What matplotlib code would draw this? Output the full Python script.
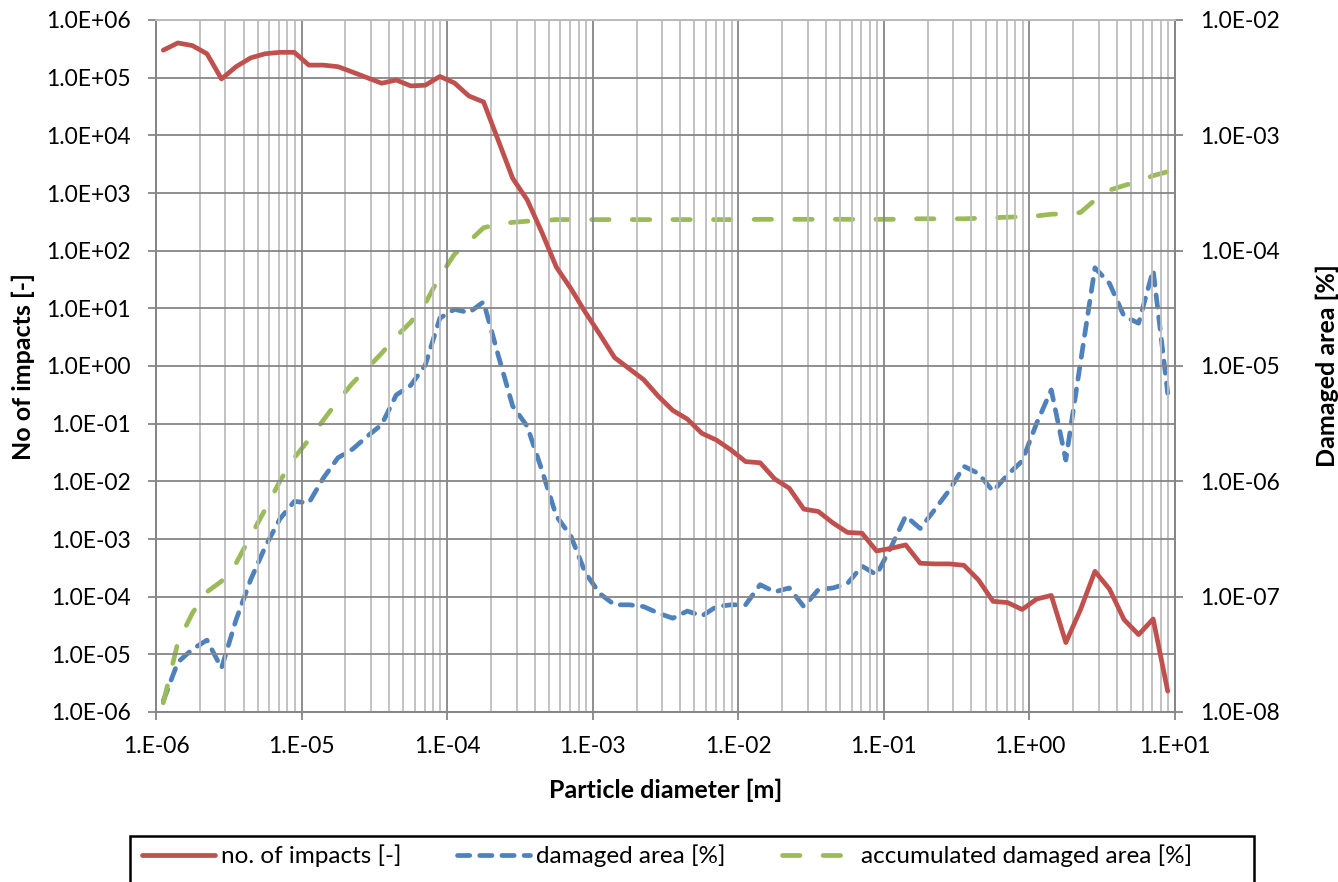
import matplotlib
matplotlib.use("Agg")
import matplotlib.pyplot as plt
import matplotlib.ticker as mticker
from matplotlib.patches import Rectangle
import numpy as np

plt.rcParams['font.family'] = ['Lato', 'DejaVu Sans']

# particle diameter bins (log10 of bin centre, 0.1 decade steps)
log_d = [-5.95, -5.85, -5.75, -5.65, -5.55, -5.45, -5.35, -5.25, -5.15, -5.05,
         -4.95, -4.85, -4.75, -4.65, -4.55, -4.45, -4.35, -4.25, -4.15, -4.05,
         -3.95, -3.85, -3.75, -3.65, -3.55, -3.45, -3.35, -3.25, -3.15, -3.05,
         -2.95, -2.85, -2.75, -2.65, -2.55, -2.45, -2.35, -2.25, -2.15, -2.05,
         -1.95, -1.85, -1.75, -1.65, -1.55, -1.45, -1.35, -1.25, -1.15, -1.05,
         -0.95, -0.85, -0.75, -0.65, -0.55, -0.45, -0.35, -0.25, -0.15, -0.05,
         0.05, 0.15, 0.25, 0.35, 0.45, 0.55, 0.65, 0.75, 0.85, 0.95]
diameter = [10 ** v for v in log_d]

impacts = [3.0e5, 4.0e5, 3.6e5, 2.6e5, 9.5e4, 1.55e5, 2.2e5, 2.6e5, 2.75e5, 2.75e5,
           1.65e5, 1.65e5, 1.55e5, 1.25e5, 1.0e5, 8.0e4, 9.1e4, 7.2e4, 7.4e4, 1.05e5,
           8.1e4, 4.8e4, 3.8e4, 8.3e3, 1.8e3, 7.6e2, 2.1e2, 52, 22, 8.5,
           3.5, 1.4, 0.9, 0.58, 0.30, 0.17, 0.12, 0.068, 0.052, 0.035,
           0.022, 0.021, 0.011, 0.0076, 0.0033, 0.0030, 0.0019, 0.0013, 0.00126, 6.2e-4,
           6.9e-4, 7.9e-4, 3.8e-4, 3.7e-4, 3.7e-4, 3.5e-4, 1.95e-4, 8.3e-5, 7.9e-5, 6.0e-5,
           9.1e-5, 1.05e-4, 1.6e-5, 5.9e-5, 2.75e-4, 1.35e-4, 4.0e-5, 2.2e-5, 4.1e-5, 2.3e-6]

damaged = [1.25e-8, 2.7e-8, 3.5e-8, 4.2e-8, 2.4e-8, 6.3e-8, 1.4e-7, 2.7e-7, 4.7e-7, 6.7e-7,
           6.5e-7, 1.07e-6, 1.6e-6, 1.9e-6, 2.45e-6, 3.1e-6, 5.6e-6, 6.8e-6, 1.02e-5, 2.6e-5,
           3.1e-5, 2.9e-5, 3.6e-5, 1.25e-5, 4.5e-6, 3.0e-6, 1.26e-6, 5.0e-7, 3.35e-7, 1.6e-7,
           1.06e-7, 8.5e-8, 8.5e-8, 8.2e-8, 7.2e-8, 6.5e-8, 7.5e-8, 6.8e-8, 8.2e-8, 8.5e-8,
           8.5e-8, 1.27e-7, 1.1e-7, 1.19e-7, 8.2e-8, 1.15e-7, 1.19e-7, 1.3e-7, 1.84e-7, 1.55e-7,
           2.7e-7, 5.0e-7, 3.9e-7, 5.7e-7, 8.4e-7, 1.35e-6, 1.17e-6, 8.2e-7, 1.14e-6, 1.5e-6,
           3.2e-6, 6.2e-6, 1.53e-6, 1.06e-5, 7.1e-5, 5.2e-5, 2.7e-5, 2.35e-5, 6.8e-5, 5.8e-6]

accumulated = [1.2e-8, 4.0e-8, 7.2e-8, 1.1e-7, 1.36e-7, 1.95e-7, 3.35e-7, 5.7e-7, 1.0e-6, 1.6e-6,
               2.3e-6, 3.4e-6, 5.0e-6, 7.1e-6, 9.5e-6, 1.29e-5, 1.8e-5, 2.4e-5, 3.5e-5, 6.0e-5,
               9.3e-5, 1.2e-4, 1.58e-4, 1.7e-4, 1.76e-4, 1.8e-4, 1.82e-4, 1.86e-4, 1.86e-4, 1.86e-4,
               1.86e-4, 1.86e-4, 1.86e-4, 1.86e-4, 1.86e-4, 1.86e-4, 1.86e-4, 1.86e-4, 1.86e-4, 1.86e-4,
               1.86e-4, 1.87e-4, 1.87e-4, 1.87e-4, 1.87e-4, 1.87e-4, 1.87e-4, 1.87e-4, 1.87e-4, 1.87e-4,
               1.87e-4, 1.89e-4, 1.89e-4, 1.89e-4, 1.89e-4, 1.89e-4, 1.91e-4, 1.93e-4, 1.95e-4, 1.97e-4,
               2.0e-4, 2.07e-4, 2.09e-4, 2.14e-4, 2.75e-4, 3.35e-4, 3.67e-4, 4.0e-4, 4.47e-4, 4.84e-4]

x_ticks = [1e-6, 1e-5, 1e-4, 1e-3, 1e-2, 1e-1, 1e0, 1e1]
x_labels = ["1.E-06", "1.E-05", "1.E-04", "1.E-03", "1.E-02", "1.E-01", "1.E+00", "1.E+01"]
yl_ticks = [10.0 ** e for e in range(-6, 7)]
yl_labels = ["1.0E-06", "1.0E-05", "1.0E-04", "1.0E-03", "1.0E-02", "1.0E-01", "1.0E+00",
             "1.0E+01", "1.0E+02", "1.0E+03", "1.0E+04", "1.0E+05", "1.0E+06"]
yr_ticks = [10.0 ** e for e in range(-8, -1)]
yr_labels = ["1.0E-08", "1.0E-07", "1.0E-06", "1.0E-05", "1.0E-04", "1.0E-03", "1.0E-02"]

RED = "#C0504D"
BLUE = "#4F81BD"
GREEN = "#9BBB59"
MAJ = "#868686"
MIN = "#BDBDBD"

W, H = 1338, 882
fig = plt.figure(figsize=(W / 100, H / 100), dpi=100)
ax = fig.add_axes([156 / W, 1 - 712 / H, (1175 - 156) / W, (712 - 20) / H])
ax2 = ax.twinx()

ax.set_xscale("log")
ax.set_yscale("log")
ax2.set_yscale("log")
ax.set_xlim(1e-6, 1e1)
ax.set_ylim(1e-6, 1e6)
ax2.set_ylim(1e-8, 1e-2)

# grid
ax.xaxis.set_minor_locator(mticker.LogLocator(base=10, subs=np.arange(2, 10), numticks=20))
ax.xaxis.set_minor_formatter(mticker.NullFormatter())
ax.yaxis.set_minor_locator(mticker.NullLocator())
ax2.yaxis.set_minor_locator(mticker.NullLocator())
ax.grid(True, which="minor", axis="x", color=MIN, lw=1.3)
ax.grid(True, which="major", axis="both", color=MAJ, lw=1.3)
ax.set_axisbelow(True)

ax.set_xticks(x_ticks)
ax.set_xticklabels(x_labels)
ax.set_yticks(yl_ticks)
ax.set_yticklabels(yl_labels)
ax2.set_yticks(yr_ticks)
ax2.set_yticklabels(yr_labels)

for a in (ax, ax2):
    a.tick_params(which="major", length=6, width=1.3, color=MAJ, labelsize=16.5, pad=12)
    a.tick_params(which="minor", length=0)
    for s in a.spines.values():
        s.set_color(MAJ)
        s.set_linewidth(1.3)
ax.spines["top"].set_color(MIN)
ax2.spines["top"].set_color(MIN)
ax.tick_params(axis="x", pad=11)

ax.set_xlabel("Particle diameter [m]", fontsize=18, fontweight="bold", labelpad=16)
ax.set_ylabel("No of impacts [-]", fontsize=18, fontweight="bold", labelpad=8)
ax2.set_ylabel("Damaged area [%]", fontsize=18, fontweight="bold", rotation=90, labelpad=26)

lw = 3.4
l1, = ax.plot(diameter, impacts, color=RED, lw=lw, solid_capstyle="round",
              solid_joinstyle="round", label="no. of impacts [-]")
l2, = ax2.plot(diameter, damaged, color=BLUE, lw=lw, dashes=(2.6, 2.1),
               dash_capstyle="round", dash_joinstyle="round", label="damaged area [%]")
l3, = ax2.plot(diameter, accumulated, color=GREEN, lw=lw, dashes=(3.7, 4.9),
               dash_capstyle="round", dash_joinstyle="round", label="accumulated damaged area [%]")
ax.set_zorder(ax2.get_zorder() + 1)
ax.patch.set_visible(False)

# legend box running off the bottom edge
fig.patches.append(Rectangle((130 / W, -0.05), (1254 - 130) / W, 0.05 + 1 - 836 / H,
                             transform=fig.transFigure, fill=False, edgecolor="black",
                             lw=1.8, clip_on=False))
fig.legend(handles=[l1, l2, l3], loc="upper left", bbox_to_anchor=(137 / W, 1 - 840 / H),
           ncol=3, frameon=False, fontsize=17.5, handlelength=3.0, handletextpad=0.25,
           columnspacing=2.3, borderaxespad=0, borderpad=0.2)

fig.savefig("out.png", dpi=100)
